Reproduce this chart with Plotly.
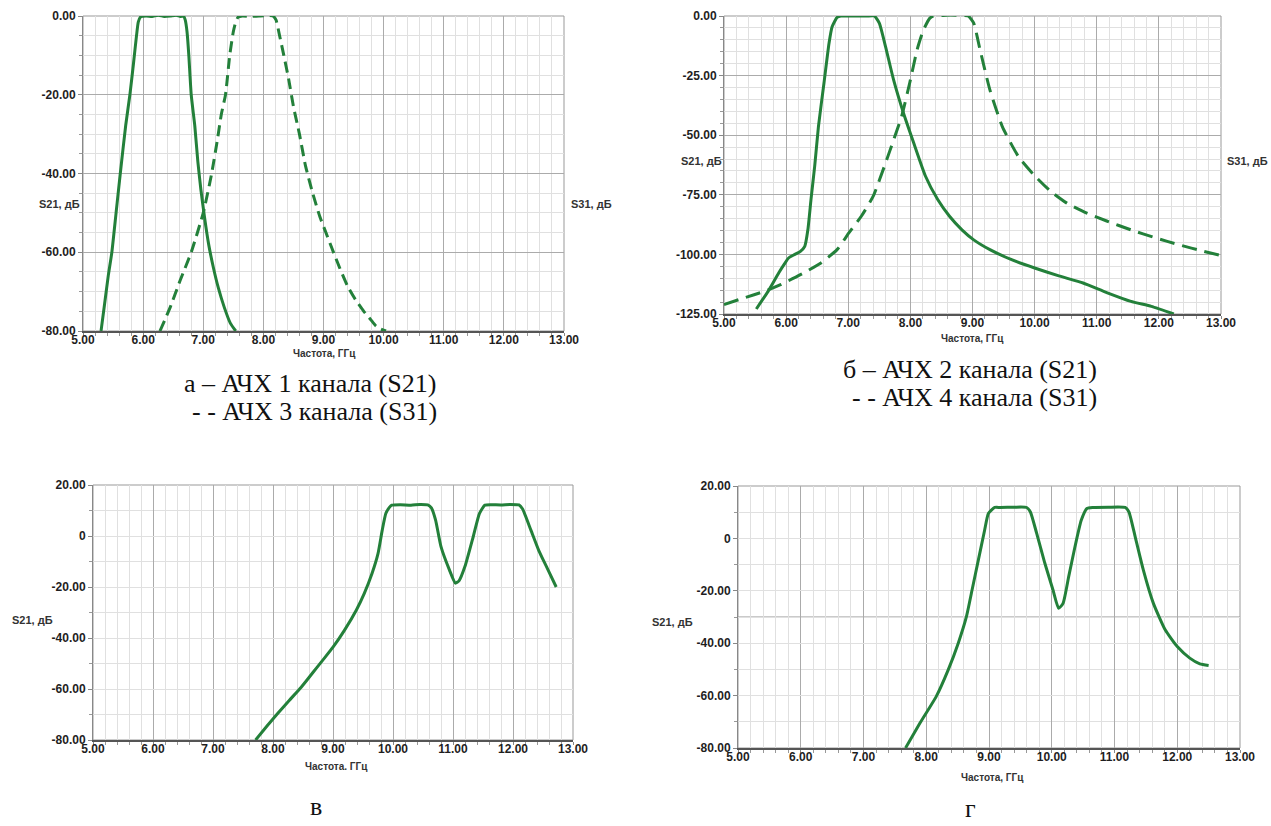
import plotly.graph_objects as go

W, H = 1271, 826
GREEN = "#23803a"

# ---------------- data ----------------
# panel a
a_s21_x = [5.30, 5.36, 5.42, 5.48, 5.55, 5.62, 5.71, 5.78, 5.84, 5.89, 5.92, 5.96, 6.05, 6.15, 6.25,
           6.35, 6.45, 6.55, 6.62, 6.67, 6.70, 6.73, 6.76, 6.80, 6.86, 6.91, 6.96, 7.02, 7.09, 7.17,
           7.25, 7.35, 7.45, 7.54]
a_s21_y = [-80, -73, -66, -60, -50, -40, -27.8, -20, -12, -5, -1.5, -0.2, 0, -0.1, 0.2,
           -0.1, 0, 0.2, -0.1, 0, -1, -4, -10, -20, -28, -37, -44, -51, -58, -64,
           -69, -74, -78, -80]
a_s31_x = [6.28, 6.45, 6.62, 6.80, 7.00, 7.14, 7.24, 7.30, 7.37, 7.44, 7.50, 7.54, 7.58, 7.65, 7.80,
           7.95, 8.10, 8.16, 8.21, 8.27, 8.34, 8.42, 8.50, 8.60, 8.70, 8.82, 8.94, 9.04, 9.14, 9.27,
           9.40, 9.53, 9.67, 9.78, 9.87, 9.95, 10.04]
a_s31_y = [-80, -74, -67, -60, -50, -40, -31, -25, -20, -10, -4, -1.5, -0.3, 0, -0.1,
           0, 0.1, 0, -1, -5, -10, -16, -23, -30, -38, -45, -51, -55, -59, -64,
           -68.6, -72, -75, -77, -78.7, -79.5, -80]

# panel б
b_s21_x = [5.52, 5.62, 5.71, 5.80, 5.88, 5.96, 6.04, 6.14, 6.23, 6.30, 6.35, 6.40, 6.46, 6.52, 6.61,
           6.69, 6.74, 6.82, 6.88, 7.00, 7.15, 7.30, 7.42, 7.50, 7.60, 7.73, 7.89, 8.05, 8.24, 8.44,
           8.63, 8.83, 9.02, 9.28, 9.61, 10.00, 10.39, 10.78, 11.16, 11.55, 11.88, 12.24]
b_s21_y = [-122.9, -119, -115.5, -111.5, -107.8, -104.5, -101.5, -100, -98.7, -96.6, -89.7, -77, -63, -46.4, -28,
           -11.5, -4.5, -0.6, 0, 0, 0, 0, 0, -3, -12.8, -26.8, -40.8, -53, -67, -77,
           -84, -89.7, -93.9, -98, -102, -105.7, -109, -112, -116, -119.7, -121.8, -125]
b_s31_x = [5.00, 5.32, 5.65, 5.91, 6.23, 6.56, 6.82, 7.01, 7.21, 7.40, 7.60, 7.73, 7.86, 7.99, 8.11,
           8.21, 8.31, 8.37, 8.50, 8.65, 8.80, 8.93, 9.02, 9.12, 9.28, 9.48, 9.74, 10.00, 10.26, 10.52,
           10.84, 11.16, 11.55, 11.94, 12.33, 12.72, 13.00]
b_s31_y = [-121, -118.3, -115.5, -112.7, -108.5, -103.6, -98, -91, -84, -75.7, -61.7, -52, -42, -28, -14,
           -5.9, -1, 0, 0.2, 0.4, 0.2, 0, -3, -14, -31, -46.4, -59, -67, -73.6, -78.5,
           -82.7, -86, -89.7, -93, -96, -98.7, -100.5]

# panel в
c_x = [7.71, 7.90, 8.07, 8.27, 8.47, 8.60, 8.73, 8.87, 9.00, 9.19, 9.39, 9.52, 9.65, 9.75, 9.82,
       9.88, 9.94, 9.98, 10.12, 10.30, 10.45, 10.58, 10.64, 10.71, 10.80, 10.94, 11.04, 11.10, 11.20, 11.34,
       11.44, 11.53, 11.63, 11.80, 11.95, 12.10, 12.16, 12.30, 12.43, 12.56, 12.72]
c_y = [-80, -74.5, -69.8, -64.5, -59.3, -55.5, -51.6, -47.5, -43.6, -37, -29, -22.6, -14.7, -6.9, 2.2,
       8.8, 11.2, 12.1, 12.3, 12.1, 12.4, 12.2, 11.0, 6.2, -4.2, -13.3, -18.5, -17.6, -11.9, 0,
       8.8, 12.1, 12.3, 12.2, 12.4, 12.2, 10.6, 2.2, -5.7, -12.1, -20]

# panel г
d_x = [7.67, 7.90, 8.16, 8.35, 8.51, 8.64, 8.73, 8.83, 8.93, 8.99, 9.09, 9.18, 9.40, 9.60, 9.66,
       9.76, 9.89, 10.02, 10.11, 10.18, 10.27, 10.37, 10.47, 10.56, 10.66, 10.90, 11.17, 11.23, 11.33, 11.46,
       11.62, 11.81, 12.00, 12.20, 12.36, 12.50]
d_y = [-80, -70.5, -60.3, -50.2, -40, -29.9, -19.7, -8.3, 3.1, 9.5, 11.8, 11.8, 11.9, 11.8, 10.1,
       1.9, -9.5, -19.7, -26.7, -24.8, -14.6, -3.2, 6.9, 11.4, 11.8, 11.9, 11.8, 10.1, 0.6, -12.1,
       -24.8, -35, -41.3, -45.7, -47.9, -48.5]

x_ticks = [5, 6, 7, 8, 9, 10, 11, 12, 13]
a_y_ticks = [0, -20, -40, -60, -80]
b_y_ticks = [0, -25, -50, -75, -100, -125]
cd_y_ticks = [20, 0, -20, -40, -60, -80]
cd_y_text = ["20.00", "0", "-20.00", "-40.00", "-60.00", "-80.00"]

# ---------------- layout helpers ----------------
MAJOR = "#ababab"
MINOR = "#e0e0e0"
TICKFONT = dict(family="Liberation Sans, Arial, sans-serif", size=12, color="#1e1e1e")


def bold(s):
    return f"<b>{s}</b>"


def px_dom_x(x0, x1):
    return [x0 / W, x1 / W]


def px_dom_y(y0, y1):
    return [1 - y1 / H, 1 - y0 / H]


def xaxis(dom, anchor):
    return dict(domain=dom, anchor=anchor, range=[5, 13], tickmode="array", tickvals=x_ticks,
                ticktext=[bold(f"{v:.2f}") for v in x_ticks], showgrid=True, gridcolor=MAJOR, gridwidth=1,
                ticks="outside", ticklen=3, tickcolor="#888", tickfont=TICKFONT, ticklabelstandoff=-6,
                showline=True, linecolor="#555", linewidth=2, zeroline=False, fixedrange=True,
                automargin=False,
                minor=dict(dtick=0.2, tick0=5, showgrid=True, gridcolor=MINOR, ticks="outside",
                           ticklen=3, tickcolor="#999"))


def yaxis(dom, anchor, rng, tvals, ttext, mdt, grid_major):
    return dict(domain=dom, anchor=anchor, range=rng, tickmode="array", tickvals=tvals,
                ticktext=[bold(t) for t in ttext],
                showgrid=True, gridcolor=grid_major, gridwidth=1, ticks="outside", ticklen=4,
                tickcolor="#888", tickfont=TICKFONT, showline=True, linecolor="#888", linewidth=1,
                zeroline=False, fixedrange=True, automargin=False,
                minor=dict(dtick=mdt, tick0=rng[0], showgrid=True, gridcolor=MINOR, ticks="outside",
                           ticklen=3, tickcolor="#999"))


fig = go.Figure()

line_solid = dict(color=GREEN, width=3, shape="spline", smoothing=0.5)
line_dash = dict(color=GREEN, width=3, dash="11px,6px", shape="spline", smoothing=0.5)

fig.add_trace(go.Scatter(x=a_s21_x, y=a_s21_y, mode="lines", line=line_solid, xaxis="x", yaxis="y"))
fig.add_trace(go.Scatter(x=a_s31_x, y=a_s31_y, mode="lines", line=line_dash, xaxis="x", yaxis="y"))
fig.add_trace(go.Scatter(x=b_s21_x, y=b_s21_y, mode="lines", line=line_solid, xaxis="x2", yaxis="y2"))
fig.add_trace(go.Scatter(x=b_s31_x, y=b_s31_y, mode="lines", line=dict(line_dash, dash="15px,8px"),
                         xaxis="x2", yaxis="y2"))
fig.add_trace(go.Scatter(x=c_x, y=c_y, mode="lines", line=line_solid, xaxis="x3", yaxis="y3"))
fig.add_trace(go.Scatter(x=d_x, y=d_y, mode="lines", line=line_solid, xaxis="x4", yaxis="y4"))

dom = {
    "a": (px_dom_x(83, 564), px_dom_y(16, 331)),
    "b": (px_dom_x(724, 1221), px_dom_y(16, 314)),
    "c": (px_dom_x(93, 573), px_dom_y(485, 740)),
    "d": (px_dom_x(738, 1240), px_dom_y(486, 748)),
}

fig.update_layout(
    width=W, height=H, margin=dict(l=0, r=0, t=0, b=0, pad=0), autosize=False,
    paper_bgcolor="white", plot_bgcolor="white", showlegend=False,
    xaxis=xaxis(dom["a"][0], "y"),
    yaxis=yaxis(dom["a"][1], "x", [-80, 0], a_y_ticks, [f"{v:.2f}" for v in a_y_ticks], 5, MAJOR),
    xaxis2=xaxis(dom["b"][0], "y2"),
    yaxis2=yaxis(dom["b"][1], "x2", [-125, 0], b_y_ticks, [f"{v:.2f}" for v in b_y_ticks], 5, MAJOR),
    xaxis3=xaxis(dom["c"][0], "y3"),
    yaxis3=yaxis(dom["c"][1], "x3", [-80, 20], cd_y_ticks, cd_y_text, 10, MINOR),
    xaxis4=xaxis(dom["d"][0], "y4"),
    yaxis4=yaxis(dom["d"][1], "x4", [-80, 20], cd_y_ticks, cd_y_text, 10, MINOR),
)

shapes = []
for xs, ys in [("x", "y"), ("x2", "y2"), ("x3", "y3"), ("x4", "y4")]:
    shapes.append(dict(type="rect", xref=f"{xs} domain", yref=f"{ys} domain", x0=0, x1=1, y0=0, y1=1,
                       line=dict(color="#999", width=1), layer="below"))
for xs, ys in [("x3", "y3"), ("x4", "y4")]:
    shapes.append(dict(type="line", xref=f"{xs} domain", yref=ys, x0=0, x1=1, y0=-30, y1=-30,
                       line=dict(color="#959595", width=1), layer="below"))
fig.update_layout(shapes=shapes)

LBL = dict(family="Liberation Sans, Arial, sans-serif", size=11, color="#333")
CAP = dict(family="Liberation Serif, Times New Roman, serif", size=26, color="#111")


def ann(text, px, py, font, b=False):
    return dict(text=bold(text) if b else text, x=px / W, y=1 - py / H, xref="paper", yref="paper",
                showarrow=False, xanchor="center", yanchor="middle", font=font)


annotations = [
    ann("S21, дБ", 59, 204, LBL, True), ann("S31, дБ", 591, 204, LBL, True),
    ann("Частота, ГГц", 324, 353, dict(LBL, size=10), True),
    ann("а – АЧХ 1 канала (S21)", 310, 383, CAP), ann("- - АЧХ 3 канала (S31)", 314, 411, CAP),
    ann("S21, дБ", 701, 161, LBL, True), ann("S31, дБ", 1247, 161, LBL, True),
    ann("Частота, ГГц", 972, 339, dict(LBL, size=10), True),
    ann("б – АЧХ 2 канала (S21)", 970, 369, CAP), ann("- - АЧХ 4 канала (S31)", 974, 397, CAP),
    ann("S21, дБ", 32, 620, LBL, True),
    ann("Частота. ГГц", 336, 766, dict(LBL, size=10), True),
    ann("в", 316, 806, CAP),
    ann("S21, дБ", 672, 622, LBL, True),
    ann("Частота, ГГц", 992, 777, dict(LBL, size=10), True),
    ann("г", 970, 808, CAP),
]
fig.update_layout(annotations=annotations)

fig.write_html("out.html", post_script="document.body.style.margin='0';document.body.style.overflow='hidden';")
